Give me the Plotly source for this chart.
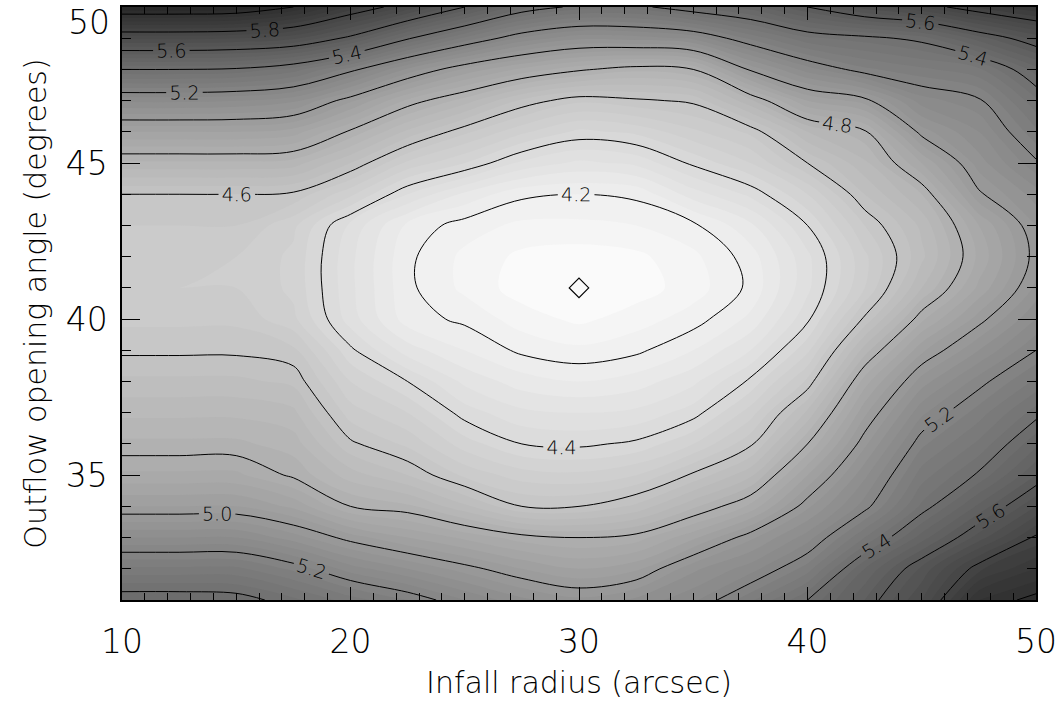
import numpy as np
import plotly.graph_objects as go

# Model grid: infall radius (arcsec) and outflow opening angle (degrees)
infall_radius = [10, 12.5, 15, 17.5, 20, 22.5, 25, 27.5, 30, 32.5,
                 35, 37.5, 40, 42.5, 45, 47.5, 50]
opening_angle = list(range(31, 51))

# Fit statistic along opening angle (31 -> 50 deg) for each infall radius
fit_r10_0 = [5.44, 5.29, 5.12, 4.96, 4.85, 4.77, 4.71, 4.65, 4.59, 4.55,
             4.52, 4.53, 4.56, 4.60, 4.75, 4.92, 5.13, 5.40, 5.73, 6.08]
fit_r12_5 = [5.44, 5.29, 5.12, 4.96, 4.85, 4.77, 4.71, 4.65, 4.59, 4.55,
             4.52, 4.53, 4.56, 4.60, 4.75, 4.92, 5.13, 5.40, 5.73, 6.08]
fit_r15_0 = [5.43, 5.29, 5.12, 4.96, 4.85, 4.77, 4.71, 4.65, 4.59, 4.55,
             4.52, 4.52, 4.56, 4.60, 4.75, 4.92, 5.12, 5.39, 5.72, 6.07]
fit_r17_5 = [5.37, 5.23, 5.06, 4.91, 4.79, 4.74, 4.69, 4.63, 4.57, 4.49,
             4.47, 4.47, 4.49, 4.59, 4.74, 4.90, 5.09, 5.34, 5.69, 6.00]
fit_r20_0 = [5.30, 5.14, 4.98, 4.80, 4.70, 4.61, 4.54, 4.48, 4.41, 4.34,
             4.33, 4.33, 4.35, 4.49, 4.64, 4.79, 4.97, 5.22, 5.58, 5.87]
fit_r22_5 = [5.24, 5.08, 4.92, 4.77, 4.64, 4.55, 4.48, 4.40, 4.30, 4.22,
             4.21, 4.21, 4.23, 4.36, 4.51, 4.67, 4.83, 5.07, 5.41, 5.75]
fit_r25_0 = [5.16, 5.02, 4.87, 4.69, 4.55, 4.46, 4.38, 4.31, 4.24, 4.19,
             4.15, 4.15, 4.18, 4.27, 4.44, 4.57, 4.74, 4.95, 5.27, 5.60]
fit_r27_5 = [5.09, 4.96, 4.82, 4.60, 4.50, 4.40, 4.33, 4.26, 4.19, 4.14,
             4.10, 4.11, 4.15, 4.21, 4.35, 4.49, 4.63, 4.87, 5.15, 5.45]
fit_r30_0 = [5.05, 4.92, 4.80, 4.60, 4.49, 4.39, 4.32, 4.24, 4.17, 4.11,
             4.08, 4.10, 4.15, 4.20, 4.31, 4.43, 4.57, 4.81, 5.09, 5.38]
fit_r32_5 = [5.09, 4.95, 4.82, 4.65, 4.52, 4.41, 4.33, 4.26, 4.19, 4.14,
             4.10, 4.11, 4.16, 4.21, 4.33, 4.45, 4.59, 4.77, 5.10, 5.38]
fit_r35_0 = [5.15, 5.07, 4.91, 4.75, 4.61, 4.48, 4.38, 4.31, 4.24, 4.18,
             4.14, 4.15, 4.19, 4.30, 4.41, 4.51, 4.61, 4.80, 5.13, 5.45]
fit_r37_5 = [5.27, 5.14, 5.03, 4.85, 4.71, 4.59, 4.50, 4.41, 4.32, 4.25,
             4.21, 4.22, 4.27, 4.37, 4.48, 4.57, 4.75, 5.01, 5.25, 5.50]
fit_r40_0 = [5.40, 5.26, 5.14, 5.03, 4.92, 4.80, 4.69, 4.57, 4.47, 4.39,
             4.35, 4.35, 4.40, 4.48, 4.60, 4.72, 4.92, 5.14, 5.35, 5.60]
fit_r42_5 = [5.56, 5.48, 5.32, 5.18, 5.11, 5.03, 4.95, 4.86, 4.74, 4.61,
             4.52, 4.51, 4.56, 4.64, 4.71, 4.79, 4.98, 5.23, 5.38, 5.70]
fit_r45_0 = [5.72, 5.65, 5.50, 5.37, 5.30, 5.23, 5.15, 5.06, 4.95, 4.83,
             4.72, 4.67, 4.69, 4.76, 4.88, 5.02, 5.14, 5.27, 5.42, 5.76]
fit_r47_5 = [5.96, 5.83, 5.66, 5.53, 5.41, 5.33, 5.26, 5.18, 5.08, 4.98,
             4.89, 4.85, 4.88, 4.99, 5.06, 5.12, 5.19, 5.31, 5.54, 5.85]
fit_r50_0 = [6.02, 5.92, 5.81, 5.68, 5.56, 5.47, 5.38, 5.29, 5.20, 5.12,
             5.05, 5.02, 5.04, 5.10, 5.19, 5.27, 5.35, 5.46, 5.65, 5.92]

# Best-fitting model
best_radius = [30]
best_angle = [41]

x_ticks = [10, 20, 30, 40, 50]
y_ticks = [35, 40, 45, 50]

columns = [fit_r10_0, fit_r12_5, fit_r15_0, fit_r17_5, fit_r20_0, fit_r22_5,
           fit_r25_0, fit_r27_5, fit_r30_0, fit_r32_5, fit_r35_0, fit_r37_5,
           fit_r40_0, fit_r42_5, fit_r45_0, fit_r47_5, fit_r50_0]
z = np.column_stack(columns)

FONT = "DejaVu Sans"
gray = [[0.0, "#ffffff"], [1.0, "#262626"]]

fig = go.Figure()

# Finely stepped grey shading
fig.add_trace(go.Contour(
    x=infall_radius, y=opening_angle, z=z,
    colorscale=gray, zmin=4.05, zmax=6.1,
    contours=dict(coloring="fill", start=4.0, end=6.2, size=0.04),
    line=dict(width=0, smoothing=1.0),
    showscale=False, hoverinfo="skip",
))

# Labelled contour lines every 0.2
fig.add_trace(go.Contour(
    x=infall_radius, y=opening_angle, z=z,
    contours=dict(coloring="none", start=4.2, end=6.0, size=0.2,
                  showlabels=True, labelformat=".1f",
                  labelfont=dict(family=FONT, size=19, color="black", weight=200)),
    line=dict(color="black", width=1, smoothing=1.0),
    showscale=False, hoverinfo="skip",
))

fig.add_trace(go.Scatter(
    x=best_radius, y=best_angle, mode="markers",
    marker=dict(symbol="diamond-open", size=15, color="black",
                line=dict(width=1.2, color="black")),
    showlegend=False, hoverinfo="skip",
))

tick_font = dict(family=FONT, size=33, color="black", weight=200)
title_font = dict(family=FONT, size=30, color="black", weight=200)

axis_common = dict(
    showgrid=False, zeroline=False, showline=True, linecolor="black",
    linewidth=1.5, mirror="ticks", ticks="inside", tickcolor="black",
    tickwidth=1, tickfont=tick_font,
)

fig.update_xaxes(
    range=[10, 50], tickvals=x_ticks, ticklen=13, ticklabelstandoff=12,
    minor=dict(ticks="inside", dtick=1, ticklen=7, tickcolor="black"),
    title=dict(text="Infall radius (arcsec)", standoff=12, font=title_font),
    **axis_common,
)
# the top label is set just inside the frame as its own annotation
fig.update_yaxes(
    range=[31, 50], tickvals=y_ticks,
    ticktext=[str(v) for v in y_ticks[:-1]] + [""],
    ticklen=18, ticklabelstandoff=6,
    minor=dict(ticks="inside", dtick=1, ticklen=9, tickcolor="black"),
    title=dict(text="Outflow opening angle (degrees)", standoff=10, font=title_font),
    **axis_common,
)
fig.add_annotation(
    xref="paper", yref="y", x=0, y=y_ticks[-1], text=str(y_ticks[-1]),
    showarrow=False, xanchor="right", yanchor="middle",
    xshift=-10, yshift=-15, font=tick_font,
)

fig.update_layout(
    width=1063, height=704,
    margin=dict(l=122, r=27, t=5, b=104),
    paper_bgcolor="white", plot_bgcolor="white",
    showlegend=False,
)

fig.write_html("out.html")
